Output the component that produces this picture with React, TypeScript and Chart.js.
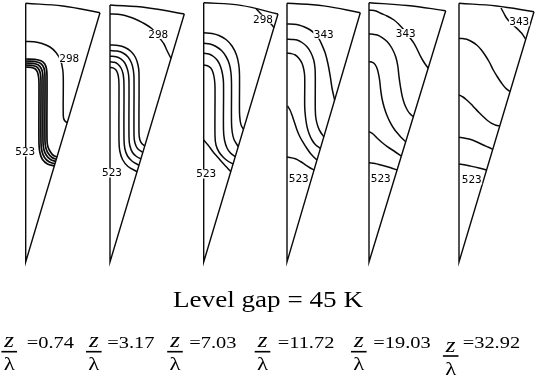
import React, { useEffect, useRef } from "react";
import { Chart, registerables } from "chart.js";

Chart.register(...registerables);

type Pt = [number, number];

// Wedge outlines: straight edges (top of left side -> apex -> top of right side)
const wedgeEdges: Pt[][] = [
  [[25.7, 3.3], [25.7, 262], [100, 12.7]],
  [[110, 5], [110, 262], [184.3, 14]],
  [[203.7, 2.7], [203.7, 262], [278, 14]],
  [[287, 3.3], [287, 262], [360.3, 12.7]],
  [[369, 2.7], [369, 262], [445.7, 10.7]],
  [[459, 3.3], [459, 262], [534, 11.7]],
];

// Wedge outer arcs (left -> mid -> right)
const wedgeArcs: Pt[][] = [
  [[25.7, 3.3], [62.8, 6], [100, 12.7]],
  [[110, 5], [147, 7.7], [184.3, 14]],
  [[203.7, 2.7], [240.8, 5.4], [278, 14]],
  [[287, 3.3], [323.7, 5.9], [360.3, 12.7]],
  [[369, 2.7], [407.3, 5.5], [445.7, 10.7]],
  [[459, 3.3], [496.5, 6], [534, 11.7]],
];

// z/λ = 0.74
const wedge1Contours: Pt[][] = [
  [[25.7, 41.5], [34, 41.8], [42, 43.5], [50, 47], [56, 52.5], [60.5, 60], [62.8, 70], [63.3, 80], [63.3, 116], [64.5, 120.5], [67.2, 122.7]],
  [[25.7, 59], [35, 59.3], [41, 60.8], [44.8, 64], [46.5, 69], [47, 76], [47, 140], [48, 147], [50.5, 152], [53.5, 155.5], [57, 157]],
  [[25.7, 61], [34, 61.3], [39.5, 62.8], [43, 66], [44.6, 71], [45, 78], [45, 141], [46, 148.5], [48.5, 153.8], [52, 157.5], [56.3, 159.3]],
  [[25.7, 63], [33, 63.3], [38, 64.8], [41, 68], [42.6, 73], [43, 80], [43, 142], [44, 150], [46.5, 155.5], [50.5, 159.5], [55.7, 161.5]],
  [[25.7, 65], [32, 65.3], [36.5, 66.8], [39.2, 70], [40.6, 75], [41, 82], [41, 143], [42, 151.5], [44.5, 157.5], [49, 161.8], [55, 163.8]],
  [[25.7, 67], [31, 67.3], [35, 68.8], [37.4, 72], [38.6, 77], [39, 84], [39, 144], [40, 153], [42.5, 159.5], [47.5, 164], [54.3, 166]],
];

// z/λ = 3.17
const wedge2Contours: Pt[][] = [
  [[110, 14], [118, 14.3], [125, 15.5], [132, 17.8], [138.3, 20.5], [145, 24], [151.7, 28.5], [156, 33], [160, 38.5], [164, 44], [167, 50.5], [171, 58.5]],
  [[110, 45], [118, 45.5], [125, 47.5], [131, 51.5], [135.5, 57.5], [138, 65], [139, 73], [139, 133], [139.8, 139.5], [141.8, 143.5], [144.8, 146]],
  [[110, 50.6], [117, 51.1], [123, 53], [128, 57], [131.5, 63], [133.3, 70], [134, 78], [134, 135], [134.8, 142.5], [137.5, 148.5], [142.8, 152.4]],
  [[110, 56.2], [116, 56.7], [120.5, 58.6], [124.5, 62.5], [127.2, 68.5], [128.6, 75], [129, 83], [129, 137], [129.8, 145.5], [132.5, 152.5], [136.5, 156.5], [140.9, 158.8]],
  [[110, 61.8], [114.5, 62.3], [118, 64.2], [121, 68], [123, 73.5], [123.8, 80], [124, 88], [124, 139], [124.8, 148.5], [127.5, 156], [132.5, 161.5], [139, 165.2]],
  [[110, 67.4], [113, 67.9], [115.8, 69.8], [117.7, 73.5], [118.7, 79], [119, 86], [119, 141], [119.8, 151], [122.5, 159.5], [128, 166.5], [137.1, 171.6]],
];

// z/λ = 7.03
const wedge3Contours: Pt[][] = [
  [[256, 8.5], [262, 15], [268, 20.5], [274, 27.5]],
  [[203.7, 32.7], [212, 33.5], [219, 35.5], [226, 39.5], [232, 46], [236.5, 55], [238.8, 65], [239.5, 75], [239.5, 112], [240.2, 121], [241.5, 126], [243.6, 129.3]],
  [[203.7, 43.3], [210, 44], [216, 46.5], [221.5, 50.5], [226, 56.5], [229.3, 64], [231, 73], [231.5, 83], [231.5, 122], [232.2, 132], [234, 139.5], [238.3, 146.7]],
  [[203.7, 53.3], [209, 54], [213.5, 56.5], [217.5, 60.5], [220.5, 66.5], [222.5, 74], [223.5, 83], [223.5, 130], [224.5, 140], [227, 148], [230.5, 153], [235.2, 156.7]],
  [[203.7, 65], [207.5, 65.7], [210.8, 68], [213, 72.5], [214.4, 79], [215, 87], [215, 136], [216, 145], [219, 152], [223.5, 157.5], [228.5, 161.5], [233.1, 164]],
  [[203.7, 140], [208, 145], [213, 151.7], [218, 157.5], [223, 163.3], [227, 167.5], [230.8, 171.7]],
];

// z/λ = 11.72
const wedge4Contours: Pt[][] = [
  [[287, 24], [294, 24.3], [298.7, 25], [304.5, 27], [310.3, 30], [314.5, 33.5], [318.7, 38.3], [322, 45], [325.3, 53.3], [328, 64], [330.3, 76.7], [332, 88], [334.6, 100]],
  [[287, 39.3], [292, 39.5], [297, 40], [302, 42.5], [307, 46.7], [310.8, 52.5], [313.7, 60], [315, 68], [315.3, 76.7], [315.3, 110], [316, 119], [318, 126.7], [320.5, 132], [323.8, 136.7]],
  [[287, 53.3], [291, 53.6], [295.3, 55], [299, 58.5], [302, 63.3], [303.8, 69.5], [304.7, 76.7], [304.7, 106.7], [305.5, 117], [307, 126.7], [309.2, 134], [312, 140], [315.5, 144.8], [320.4, 148.3]],
  [[287.5, 106], [290, 110], [292, 115], [294.5, 122.5], [297, 130], [300, 137], [303.7, 143.3], [307, 148.5], [310.3, 153.3], [313.5, 156.8], [317, 160]],
  [[287, 157], [295.3, 158.8], [300.5, 161.5], [305.3, 164.8], [309.5, 167.5], [314, 170]],
];

// z/λ = 19.03
const wedge5Contours: Pt[][] = [
  [[369, 10], [376, 11], [380.7, 13.3], [387, 16], [394, 20], [399, 24.5], [404, 30], [409, 36.5], [414, 43.3], [417.5, 50], [420.7, 56.7], [423.5, 61.5], [428.2, 68.3]],
  [[369, 34], [373, 34.3], [377.3, 35], [382.5, 37.8], [387.3, 41.7], [391.8, 48], [395.7, 56.7], [397.8, 66], [399, 76.7], [400.5, 87], [402.3, 96.7], [404.5, 104], [407.3, 110], [410, 113.8], [413.3, 116.7]],
  [[369, 61.7], [371.5, 62], [374, 63.3], [376.5, 67], [378, 71.7], [379.6, 80], [380.7, 90], [382, 98.5], [384, 106.7], [387, 115.5], [390.7, 123.3], [394.5, 129.5], [399, 135], [402.5, 138.8], [405.7, 141.7]],
  [[369, 131.7], [373, 134], [377.3, 138.3], [382, 142.5], [387.3, 146.7], [394, 151], [401.4, 156]],
  [[369, 162.7], [375, 163.5], [380.7, 165], [390, 167.5], [397.1, 170]],
];

// z/λ = 32.92
const wedge6Contours: Pt[][] = [
  [[501, 8], [504, 13.5], [506.7, 18.3], [510.5, 22.5], [515, 26.7], [518.5, 30], [521.7, 33.3], [525.7, 39.3]],
  [[459, 38.3], [463, 38.6], [466.7, 39.3], [471.5, 41.5], [476.7, 45], [481, 49.5], [485, 55], [489.3, 62], [493.3, 70], [497.5, 77], [501.7, 83.3], [505.5, 88], [510, 91.7]],
  [[459, 95], [463, 97], [466.7, 100], [471, 104], [475, 108.3], [479, 112.5], [483.3, 116.7], [487.5, 120.5], [491.7, 123.3], [496, 125.2], [499.8, 126]],
  [[459, 137.3], [464, 138], [470, 139.3], [477, 142], [483.3, 145], [488.5, 147.3], [492.8, 149.4]],
  [[459, 164], [464, 164.8], [470, 166], [479, 168], [486.6, 170]],
];

// contour value labels (text, anchor in plot coordinates)
const contourLabelTexts = ["298", "523", "298", "523", "298", "523", "343", "523", "343", "523", "343", "523"];
const contourLabelAnchors: Pt[] = [
  [69.3, 58.3], [25.2, 152],
  [158.3, 34.5], [112, 173],
  [263, 19.2], [206.3, 174],
  [323.7, 34.2], [298.7, 178.8],
  [405.7, 33.5], [380.7, 178.8],
  [519.3, 21.7], [471.7, 180],
];

const levelGapText = "Level gap = 45 K";
const zOverLambda = ["0.74", "3.17", "7.03", "11.72", "19.03", "32.92"];

// caption layout (plot coordinates)
const fractionBarCentres = [9.2, 93.8, 175, 262.5, 358.8, 450.7];
const fractionBarY = [351.7, 351.7, 351.7, 351.7, 351.7, 356];
const valueTextX = [26.7, 107.3, 189.3, 277.7, 373.3, 462.7];

export default function App() {
  const ref = useRef<HTMLCanvasElement | null>(null);

  useEffect(() => {
    document.body.style.margin = "0";
    const canvas = ref.current;
    if (!canvas) return;

    const line = (pts: Pt[], tension: number, width: number) => ({
      data: pts.map(([x, y]) => ({ x, y })),
      showLine: true,
      borderColor: "#0a0a0a",
      borderWidth: width,
      pointRadius: 0,
      tension,
      fill: false,
    });

    const datasets: any[] = [];
    wedgeEdges.forEach((p) => datasets.push(line(p, 0, 1.4)));
    wedgeArcs.forEach((p) => datasets.push(line(p, 0.4, 1.4)));
    wedge1Contours.forEach((p, i) => datasets.push(line(p, 0.35, i === 0 ? 1.5 : 1.7)));
    [wedge2Contours, wedge3Contours, wedge4Contours, wedge5Contours, wedge6Contours].forEach(
      (group) => group.forEach((p) => datasets.push(line(p, 0.35, 1.5)))
    );

    const textPlugin = {
      id: "contourText",
      afterDatasetsDraw(chart: any) {
        const ctx = chart.ctx as CanvasRenderingContext2D;
        const xs = chart.scales.x;
        const ys = chart.scales.y;
        const px = (v: number) => xs.getPixelForValue(v);
        const py = (v: number) => ys.getPixelForValue(v);
        ctx.save();
        // contour labels
        ctx.font = "11px 'DejaVu Sans Mono'";
        ctx.textAlign = "center";
        ctx.textBaseline = "middle";
        contourLabelTexts.forEach((t, i) => {
          const [x, y] = contourLabelAnchors[i];
          const w = ctx.measureText(t).width;
          ctx.fillStyle = "#fff";
          ctx.fillRect(px(x) - w / 2 - 0.5, py(y) - 4.5, w + 1, 9);
          ctx.fillStyle = "#000";
          ctx.fillText(t, px(x), py(y) + 0.5);
        });

        const scaledText = (t: string, x: number, y: number, font: string, sx: number, align: CanvasTextAlign) => {
          ctx.save();
          ctx.translate(x, y);
          ctx.scale(sx, 1);
          ctx.font = font;
          ctx.textAlign = align;
          ctx.textBaseline = "alphabetic";
          ctx.fillStyle = "#000";
          ctx.fillText(t, 0, 0);
          ctx.restore();
        };

        scaledText(levelGapText, px(173), py(306.5), "24px 'Liberation Serif'", 1.13, "left");

        zOverLambda.forEach((v, i) => {
          const cx = px(fractionBarCentres[i]);
          const by = py(fractionBarY[i]);
          ctx.fillStyle = "#000";
          ctx.fillRect(cx - 7.8, by - 0.8, 15.6, 1.6);
          scaledText("z", cx, by - 4.5, "italic 20px 'Liberation Serif'", 1.25, "center");
          scaledText("λ", cx, by + 18.5, "19px 'Liberation Serif'", 1.2, "center");
          scaledText("=" + v, px(valueTextX[i]), py(347.7), "17px 'Liberation Serif'", 1.2, "left");
        });
        ctx.restore();
      },
    };

    const chart = new Chart(canvas, {
      type: "scatter",
      data: { datasets },
      options: {
        responsive: false,
        animation: false,
        events: [],
        layout: { padding: 0 },
        plugins: { legend: { display: false }, tooltip: { enabled: false } },
        scales: {
          x: { type: "linear", min: 0, max: 536, display: false },
          y: { type: "linear", min: 0, max: 383, reverse: true, display: false },
        },
      },
      plugins: [textPlugin],
    });
    return () => chart.destroy();
  }, []);

  return (
    <div style={{ width: 536, height: 383, background: "#fff" }}>
      <canvas ref={ref} width={536} height={383} style={{ display: "block" }} />
    </div>
  );
}
